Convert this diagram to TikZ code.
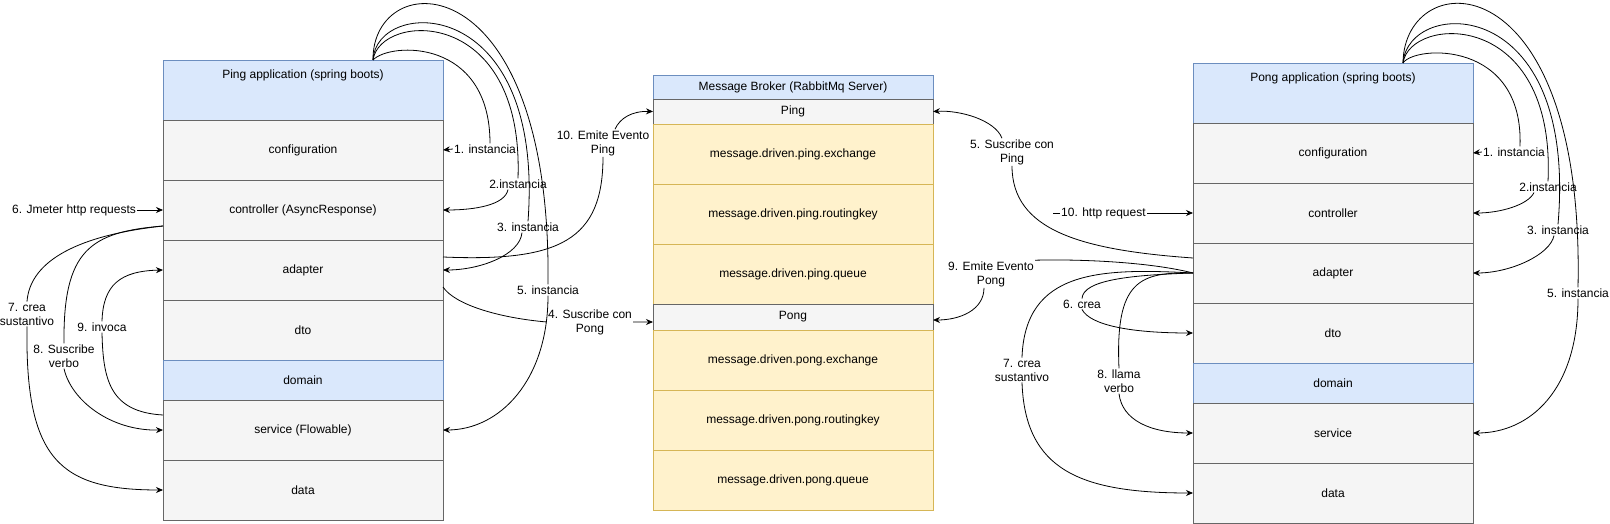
\documentclass[tikz,border=0pt]{standalone}
\usepackage{fontspec}
\setmainfont{Liberation Sans}
\usetikzlibrary{positioning,arrows.meta}
\definecolor{headblue}{HTML}{DAE8FC}
\definecolor{headline}{HTML}{6C8EBF}
\definecolor{rowgray}{HTML}{F5F5F5}
\definecolor{rowline}{HTML}{666666}
\definecolor{keyyellow}{HTML}{FFF2CC}
\definecolor{keyline}{HTML}{D6B656}
\begin{document}
\begin{tikzpicture}[x=1pt, y=-1pt, node distance=0pt,
  every node/.style={font=\fontsize{12}{14}\selectfont},
  box/.style={draw, minimum width=280pt, inner sep=0pt, outer sep=0pt, line width=0.9pt},
  head/.style={box, fill=headblue, draw=headline, minimum height=60pt},
  row/.style={box, fill=rowgray, draw=rowline, minimum height=60pt},
  key/.style={box, fill=keyyellow, draw=keyline, minimum height=60pt},
  lbl/.style={align=center, inner sep=1pt},
  link/.style={-{Stealth[length=7pt,width=6pt]}, line width=0.8pt}]
\useasboundingbox (0,0) rectangle (1610,524);

\node[head, anchor=north west, label={[anchor=north, yshift=-6pt]north:Ping application (spring boots)}] (pa) at (163,60) {};
\node[row, below=of pa] (cfg) {configuration};
\node[row, below=of cfg] (ctrl) {controller (AsyncResponse)};
\node[row, below=of ctrl] (ad) {adapter};
\node[row, below=of ad] (dto) {dto};
\node[head, minimum height=40pt, below=of dto] (dom) {domain};
\node[row, below=of dom] (svc) {service (Flowable)};
\node[row, below=of svc] (data) {data};

\node[head, minimum height=24pt, anchor=north west] (mb) at (653,75) {Message Broker (RabbitMq Server)};
\node[row, minimum height=25pt, below=of mb] (bping) {Ping};
\node[key, below=of bping] (bx1) {message.driven.ping.exchange};
\node[key, below=of bx1] (bx2) {message.driven.ping.routingkey};
\node[key, below=of bx2] (bx3) {message.driven.ping.queue};
\node[row, minimum height=26pt, below=of bx3] (bpong) {Pong};
\node[key, below=of bpong] (by1) {message.driven.pong.exchange};
\node[key, below=of by1] (by2) {message.driven.pong.routingkey};
\node[key, below=of by2] (by3) {message.driven.pong.queue};

\node[head, anchor=north west, label={[anchor=north, yshift=-6pt]north:Pong application (spring boots)}] (pp) at (1193,63) {};
\node[row, below=of pp] (pcfg) {configuration};
\node[row, below=of pcfg] (pctl) {controller};
\node[row, below=of pctl] (pad) {adapter};
\node[row, below=of pad] (pdto) {dto};
\node[head, minimum height=40pt, below=of pdto] (pdom) {domain};
\node[row, below=of pdom] (psvc) {service};
\node[row, below=of psvc] (pdata) {data};

\coordinate (pingtop) at ([xshift=70pt]pa.north);
\coordinate (pongtop) at ([xshift=70pt]pp.north);
\coordinate (hsrc) at (1053,213);

\node[lbl] (l1) at (485,149) {1. instancia};
\node[lbl] (l2) at (518,184) {2.instancia};
\node[lbl] (l3) at (528,227) {3. instancia};
\node[lbl] (l5) at (548,290) {5. instancia};
\node[lbl] (l10) at (603,143) {10. Emite Evento\\Ping};
\node[lbl] (l4) at (590,322) {4. Suscribe con\\Pong};
\node[lbl] (l6) at (74,210) {6. Jmeter http requests};
\node[lbl] (l7) at (27,314) {7. crea\\sustantivo};
\node[lbl] (l8) at (64,356) {8. Suscribe\\verbo};
\node[lbl] (l9) at (102,327) {9. invoca};

\node[lbl] (l1r) at (1514,152) {1. instancia};
\node[lbl] (l2r) at (1548,187) {2.instancia};
\node[lbl] (l3r) at (1558,230) {3. instancia};
\node[lbl] (l5r) at (1578,293) {5. instancia};
\node[lbl] (l5p) at (1012,152) {5. Suscribe con\\Ping};
\node[lbl] (l9p) at (991,274) {9. Emite Evento\\Pong};
\node[lbl] (l6p) at (1082,304) {6. crea};
\node[lbl] (l7p) at (1022,370) {7. crea\\sustantivo};
\node[lbl] (l8p) at (1119,381) {8. llama\\verbo};

\draw[link] (pingtop) .. controls (390,42) and (490,38) .. ([xshift=5pt]l1.north) (l1.west) -- (cfg.east);
\draw[link] (pingtop) .. controls (380,12) and (524,5) .. (l2.north) ([xshift=-10pt]l2.south) .. controls (505,205) and (475,210) .. (ctrl.east);
\draw[link] (pingtop) .. controls (376,-3) and (545,-8) .. (l3.north) ([xshift=-6pt]l3.south) .. controls (520,255) and (480,270) .. (ad.east);
\draw[link] (pingtop) .. controls (372,-35) and (552,-40) .. (l5.north) (l5.south) .. controls (548,380) and (500,430) .. (svc.east);
\draw[link] ([yshift=13pt]ad.east) .. controls (560,262) and (603,240) .. (l10.south) ([xshift=12pt]l10.north) .. controls (620,118) and (632,111) .. (bping.west);
\draw[link] ([yshift=-17pt]ad.east) .. controls (455,305) and (500,318) .. (l4.west) (l4.east) -- ([yshift=-5pt]bpong.west);
\draw[link] (l6) -- (ctrl.west);
\draw[link] ([yshift=-16pt]ctrl.west) .. controls (80,235) and (30,260) .. (l7.north) (l7.south) .. controls (25,460) and (60,490) .. (data.west);
\draw[link] ([yshift=-16pt]ctrl.west) .. controls (90,232) and (63,250) .. (l8.north) (l8.south) .. controls (71,400) and (110,431) .. (svc.west);
\draw[link] ([yshift=15pt]svc.west) .. controls (110,412) and (103,380) .. (l9.south) (l9.north) .. controls (103,285) and (120,271) .. (ad.west);

\draw[link] (pongtop) .. controls (1415,45) and (1524,40) .. ([xshift=6pt]l1r.north) (l1r.west) -- (pcfg.east);
\draw[link] (pongtop) .. controls (1410,15) and (1556,8) .. (l2r.north) ([xshift=-14pt]l2r.south) .. controls (1528,205) and (1500,213) .. (pctl.east);
\draw[link] (pongtop) .. controls (1408,-3) and (1578,-8) .. (l3r.north) ([xshift=-4pt]l3r.south) .. controls (1550,255) and (1510,273) .. (pad.east);
\draw[link] (pongtop) .. controls (1404,-36) and (1585,-43) .. (l5r.north) (l5r.south) .. controls (1578,390) and (1530,433) .. (psvc.east);
\draw[link] ([yshift=15pt]pad.west) .. controls (1080,250) and (1012,230) .. (l5p.south) ([xshift=-10pt]l5p.north) .. controls (995,120) and (960,110) .. (bping.east);
\draw[link] (hsrc) -- node[lbl, fill=white, pos=0.36] {10. http request} (pctl.west);
\draw[link] (pad.west) .. controls (1150,262) and (1080,259) .. (l9p.north east) ([xshift=-7pt]l9p.south) .. controls (984,310) and (960,320) .. ([yshift=-3pt]bpong.east);
\draw[link] (pad.west) .. controls (1130,275) and (1083,280) .. (l6p.north) (l6p.south) .. controls (1090,325) and (1130,333) .. (pdto.west);
\draw[link] (pad.west) .. controls (1100,268) and (1025,270) .. (l7p.north) (l7p.south) .. controls (1025,470) and (1080,493) .. (pdata.west);
\draw[link] (pad.west) .. controls (1140,272) and (1115,280) .. (l8p.north) (l8p.south) .. controls (1122,420) and (1150,433) .. (psvc.west);
\end{tikzpicture}
\end{document}
